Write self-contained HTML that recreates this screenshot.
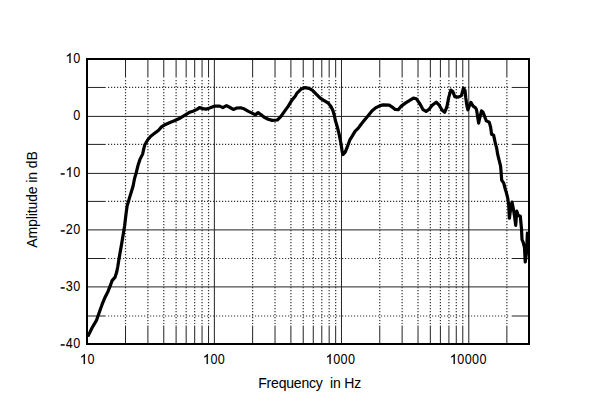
<!DOCTYPE html>
<html><head><meta charset="utf-8"><style>
html,body{margin:0;padding:0;background:#fff;width:600px;height:407px;overflow:hidden}
svg{display:block}
text{font-family:"Liberation Sans",sans-serif;font-size:14px;fill:#000;stroke:#000;stroke-width:0.05px}
.one{fill:#000} path.one{stroke:#000;stroke-width:20}
</style></head><body>
<svg width="600" height="407" viewBox="0 0 600 407">
<rect width="600" height="407" fill="#fff"/>
<line x1="87.0" y1="87.45" x2="105.75" y2="87.45" stroke="#222" stroke-width="1"/>
<line x1="511.7" y1="87.45" x2="529.0" y2="87.45" stroke="#222" stroke-width="1"/>
<line x1="108" y1="87.45" x2="509.7" y2="87.45" stroke="#333" stroke-width="1.2" stroke-dasharray="1.2 1.8"/>
<line x1="87.0" y1="144.40" x2="105.75" y2="144.40" stroke="#222" stroke-width="1"/>
<line x1="511.7" y1="144.40" x2="529.0" y2="144.40" stroke="#222" stroke-width="1"/>
<line x1="108" y1="144.40" x2="509.7" y2="144.40" stroke="#333" stroke-width="1.2" stroke-dasharray="1.2 1.8"/>
<line x1="87.0" y1="201.40" x2="105.75" y2="201.40" stroke="#222" stroke-width="1"/>
<line x1="511.7" y1="201.40" x2="529.0" y2="201.40" stroke="#222" stroke-width="1"/>
<line x1="108" y1="201.40" x2="509.7" y2="201.40" stroke="#333" stroke-width="1.2" stroke-dasharray="1.2 1.8"/>
<line x1="87.0" y1="258.50" x2="105.75" y2="258.50" stroke="#222" stroke-width="1"/>
<line x1="511.7" y1="258.50" x2="529.0" y2="258.50" stroke="#222" stroke-width="1"/>
<line x1="108" y1="258.50" x2="509.7" y2="258.50" stroke="#333" stroke-width="1.2" stroke-dasharray="1.2 1.8"/>
<line x1="87.0" y1="316.00" x2="105.75" y2="316.00" stroke="#222" stroke-width="1"/>
<line x1="511.7" y1="316.00" x2="529.0" y2="316.00" stroke="#222" stroke-width="1"/>
<line x1="108" y1="316.00" x2="509.7" y2="316.00" stroke="#333" stroke-width="1.2" stroke-dasharray="1.2 1.8"/>
<line x1="87.0" y1="116.40" x2="529.0" y2="116.40" stroke="#222" stroke-width="1"/>
<line x1="87.0" y1="173.40" x2="529.0" y2="173.40" stroke="#222" stroke-width="1"/>
<line x1="87.0" y1="229.90" x2="529.0" y2="229.90" stroke="#222" stroke-width="1"/>
<line x1="87.0" y1="286.90" x2="529.0" y2="286.90" stroke="#222" stroke-width="1"/>
<line x1="125.52" y1="59.0" x2="125.52" y2="77.5" stroke="#222" stroke-width="1"/>
<line x1="125.52" y1="325.5" x2="125.52" y2="344.0" stroke="#222" stroke-width="1"/>
<line x1="125.52" y1="80" x2="125.52" y2="324.0" stroke="#333" stroke-width="1.2" stroke-dasharray="1.2 1.8"/>
<line x1="147.90" y1="59.0" x2="147.90" y2="77.5" stroke="#222" stroke-width="1"/>
<line x1="147.90" y1="325.5" x2="147.90" y2="344.0" stroke="#222" stroke-width="1"/>
<line x1="147.90" y1="80" x2="147.90" y2="324.0" stroke="#333" stroke-width="1.2" stroke-dasharray="1.2 1.8"/>
<line x1="163.78" y1="59.0" x2="163.78" y2="77.5" stroke="#222" stroke-width="1"/>
<line x1="163.78" y1="325.5" x2="163.78" y2="344.0" stroke="#222" stroke-width="1"/>
<line x1="163.78" y1="80" x2="163.78" y2="324.0" stroke="#333" stroke-width="1.2" stroke-dasharray="1.2 1.8"/>
<line x1="176.10" y1="59.0" x2="176.10" y2="77.5" stroke="#222" stroke-width="1"/>
<line x1="176.10" y1="325.5" x2="176.10" y2="344.0" stroke="#222" stroke-width="1"/>
<line x1="176.10" y1="80" x2="176.10" y2="324.0" stroke="#333" stroke-width="1.2" stroke-dasharray="1.2 1.8"/>
<line x1="186.17" y1="59.0" x2="186.17" y2="77.5" stroke="#222" stroke-width="1"/>
<line x1="186.17" y1="325.5" x2="186.17" y2="344.0" stroke="#222" stroke-width="1"/>
<line x1="186.17" y1="80" x2="186.17" y2="324.0" stroke="#333" stroke-width="1.2" stroke-dasharray="1.2 1.8"/>
<line x1="194.68" y1="59.0" x2="194.68" y2="77.5" stroke="#222" stroke-width="1"/>
<line x1="194.68" y1="325.5" x2="194.68" y2="344.0" stroke="#222" stroke-width="1"/>
<line x1="194.68" y1="80" x2="194.68" y2="324.0" stroke="#333" stroke-width="1.2" stroke-dasharray="1.2 1.8"/>
<line x1="202.05" y1="59.0" x2="202.05" y2="77.5" stroke="#222" stroke-width="1"/>
<line x1="202.05" y1="325.5" x2="202.05" y2="344.0" stroke="#222" stroke-width="1"/>
<line x1="202.05" y1="80" x2="202.05" y2="324.0" stroke="#333" stroke-width="1.2" stroke-dasharray="1.2 1.8"/>
<line x1="208.55" y1="59.0" x2="208.55" y2="77.5" stroke="#222" stroke-width="1"/>
<line x1="208.55" y1="325.5" x2="208.55" y2="344.0" stroke="#222" stroke-width="1"/>
<line x1="208.55" y1="80" x2="208.55" y2="324.0" stroke="#333" stroke-width="1.2" stroke-dasharray="1.2 1.8"/>
<line x1="214.37" y1="59.0" x2="214.37" y2="344.0" stroke="#222" stroke-width="1"/>
<line x1="252.63" y1="59.0" x2="252.63" y2="77.5" stroke="#222" stroke-width="1"/>
<line x1="252.63" y1="325.5" x2="252.63" y2="344.0" stroke="#222" stroke-width="1"/>
<line x1="252.63" y1="80" x2="252.63" y2="324.0" stroke="#333" stroke-width="1.2" stroke-dasharray="1.2 1.8"/>
<line x1="275.02" y1="59.0" x2="275.02" y2="77.5" stroke="#222" stroke-width="1"/>
<line x1="275.02" y1="325.5" x2="275.02" y2="344.0" stroke="#222" stroke-width="1"/>
<line x1="275.02" y1="80" x2="275.02" y2="324.0" stroke="#333" stroke-width="1.2" stroke-dasharray="1.2 1.8"/>
<line x1="290.90" y1="59.0" x2="290.90" y2="77.5" stroke="#222" stroke-width="1"/>
<line x1="290.90" y1="325.5" x2="290.90" y2="344.0" stroke="#222" stroke-width="1"/>
<line x1="290.90" y1="80" x2="290.90" y2="324.0" stroke="#333" stroke-width="1.2" stroke-dasharray="1.2 1.8"/>
<line x1="303.22" y1="59.0" x2="303.22" y2="77.5" stroke="#222" stroke-width="1"/>
<line x1="303.22" y1="325.5" x2="303.22" y2="344.0" stroke="#222" stroke-width="1"/>
<line x1="303.22" y1="80" x2="303.22" y2="324.0" stroke="#333" stroke-width="1.2" stroke-dasharray="1.2 1.8"/>
<line x1="313.28" y1="59.0" x2="313.28" y2="77.5" stroke="#222" stroke-width="1"/>
<line x1="313.28" y1="325.5" x2="313.28" y2="344.0" stroke="#222" stroke-width="1"/>
<line x1="313.28" y1="80" x2="313.28" y2="324.0" stroke="#333" stroke-width="1.2" stroke-dasharray="1.2 1.8"/>
<line x1="321.79" y1="59.0" x2="321.79" y2="77.5" stroke="#222" stroke-width="1"/>
<line x1="321.79" y1="325.5" x2="321.79" y2="344.0" stroke="#222" stroke-width="1"/>
<line x1="321.79" y1="80" x2="321.79" y2="324.0" stroke="#333" stroke-width="1.2" stroke-dasharray="1.2 1.8"/>
<line x1="329.16" y1="59.0" x2="329.16" y2="77.5" stroke="#222" stroke-width="1"/>
<line x1="329.16" y1="325.5" x2="329.16" y2="344.0" stroke="#222" stroke-width="1"/>
<line x1="329.16" y1="80" x2="329.16" y2="324.0" stroke="#333" stroke-width="1.2" stroke-dasharray="1.2 1.8"/>
<line x1="335.67" y1="59.0" x2="335.67" y2="77.5" stroke="#222" stroke-width="1"/>
<line x1="335.67" y1="325.5" x2="335.67" y2="344.0" stroke="#222" stroke-width="1"/>
<line x1="335.67" y1="80" x2="335.67" y2="324.0" stroke="#333" stroke-width="1.2" stroke-dasharray="1.2 1.8"/>
<line x1="341.48" y1="59.0" x2="341.48" y2="344.0" stroke="#222" stroke-width="1"/>
<line x1="379.75" y1="59.0" x2="379.75" y2="77.5" stroke="#222" stroke-width="1"/>
<line x1="379.75" y1="325.5" x2="379.75" y2="344.0" stroke="#222" stroke-width="1"/>
<line x1="379.75" y1="80" x2="379.75" y2="324.0" stroke="#333" stroke-width="1.2" stroke-dasharray="1.2 1.8"/>
<line x1="402.13" y1="59.0" x2="402.13" y2="77.5" stroke="#222" stroke-width="1"/>
<line x1="402.13" y1="325.5" x2="402.13" y2="344.0" stroke="#222" stroke-width="1"/>
<line x1="402.13" y1="80" x2="402.13" y2="324.0" stroke="#333" stroke-width="1.2" stroke-dasharray="1.2 1.8"/>
<line x1="418.02" y1="59.0" x2="418.02" y2="77.5" stroke="#222" stroke-width="1"/>
<line x1="418.02" y1="325.5" x2="418.02" y2="344.0" stroke="#222" stroke-width="1"/>
<line x1="418.02" y1="80" x2="418.02" y2="324.0" stroke="#333" stroke-width="1.2" stroke-dasharray="1.2 1.8"/>
<line x1="430.33" y1="59.0" x2="430.33" y2="77.5" stroke="#222" stroke-width="1"/>
<line x1="430.33" y1="325.5" x2="430.33" y2="344.0" stroke="#222" stroke-width="1"/>
<line x1="430.33" y1="80" x2="430.33" y2="324.0" stroke="#333" stroke-width="1.2" stroke-dasharray="1.2 1.8"/>
<line x1="440.40" y1="59.0" x2="440.40" y2="77.5" stroke="#222" stroke-width="1"/>
<line x1="440.40" y1="325.5" x2="440.40" y2="344.0" stroke="#222" stroke-width="1"/>
<line x1="440.40" y1="80" x2="440.40" y2="324.0" stroke="#333" stroke-width="1.2" stroke-dasharray="1.2 1.8"/>
<line x1="448.91" y1="59.0" x2="448.91" y2="77.5" stroke="#222" stroke-width="1"/>
<line x1="448.91" y1="325.5" x2="448.91" y2="344.0" stroke="#222" stroke-width="1"/>
<line x1="448.91" y1="80" x2="448.91" y2="324.0" stroke="#333" stroke-width="1.2" stroke-dasharray="1.2 1.8"/>
<line x1="456.28" y1="59.0" x2="456.28" y2="77.5" stroke="#222" stroke-width="1"/>
<line x1="456.28" y1="325.5" x2="456.28" y2="344.0" stroke="#222" stroke-width="1"/>
<line x1="456.28" y1="80" x2="456.28" y2="324.0" stroke="#333" stroke-width="1.2" stroke-dasharray="1.2 1.8"/>
<line x1="462.78" y1="59.0" x2="462.78" y2="77.5" stroke="#222" stroke-width="1"/>
<line x1="462.78" y1="325.5" x2="462.78" y2="344.0" stroke="#222" stroke-width="1"/>
<line x1="462.78" y1="80" x2="462.78" y2="324.0" stroke="#333" stroke-width="1.2" stroke-dasharray="1.2 1.8"/>
<line x1="468.80" y1="59.0" x2="468.80" y2="344.0" stroke="#222" stroke-width="1"/>
<line x1="506.87" y1="59.0" x2="506.87" y2="77.5" stroke="#222" stroke-width="1"/>
<line x1="506.87" y1="325.5" x2="506.87" y2="344.0" stroke="#222" stroke-width="1"/>
<line x1="506.87" y1="80" x2="506.87" y2="324.0" stroke="#333" stroke-width="1.2" stroke-dasharray="1.2 1.8"/>
<line x1="529.25" y1="59.0" x2="529.25" y2="77.5" stroke="#222" stroke-width="1"/>
<line x1="529.25" y1="325.5" x2="529.25" y2="344.0" stroke="#222" stroke-width="1"/>
<line x1="529.25" y1="80" x2="529.25" y2="324.0" stroke="#333" stroke-width="1.2" stroke-dasharray="1.2 1.8"/>
<path d="M87.8,336.6 L92.1,327.7 L96.6,320.1 L100.1,310.0 L102.2,304.2 L105.1,297.2 L108.1,291.2 L110.1,286.2 L112.1,280.6 L115.1,277.1 L116.7,272.1 L117.7,267.0 L119.1,258.2 L121.6,244.1 L123.6,232.0 L124.6,226.0 L126.1,213.2 L127.1,206.1 L129.1,199.1 L131.6,191.0 L133.1,186.0 L134.6,178.2 L136.1,173.2 L138.1,165.1 L140.1,159.1 L142.6,154.1 L143.8,148.6 L144.8,144.8 L147.8,139.7 L150.7,136.3 L154.6,133.3 L158.6,130.3 L161.5,126.9 L165.5,124.4 L169.4,122.8 L174.3,120.8 L180.0,118.2 L185.0,115.2 L189.0,112.6 L193.0,111.2 L197.0,109.4 L199.5,107.6 L203.0,108.6 L206.0,109.1 L209.0,108.2 L212.2,107.1 L215.2,106.1 L219.7,106.1 L222.8,107.6 L226.5,105.6 L230.0,107.5 L233.3,109.4 L236.7,108.0 L240.5,107.8 L244.0,108.8 L248.5,111.3 L253.1,113.7 L255.6,114.7 L258.1,112.6 L261.1,114.7 L264.2,117.2 L268.2,119.2 L272.2,120.4 L277.3,120.0 L280.3,117.2 L284.3,111.6 L288.3,106.1 L291.9,100.1 L295.4,96.0 L297.0,93.1 L301.1,89.1 L305.1,87.6 L309.1,88.3 L312.2,90.1 L316.2,94.1 L320.2,98.1 L324.2,100.6 L328.3,103.2 L330.8,106.2 L332.8,110.2 L334.3,115.2 L335.3,120.3 L337.1,126.1 L339.1,134.1 L341.1,144.2 L342.1,151.2 L343.1,154.5 L345.2,152.2 L347.2,147.2 L349.7,140.2 L352.2,136.1 L355.2,131.1 L358.3,128.1 L361.3,124.0 L364.3,120.3 L368.1,115.7 L372.1,110.7 L376.1,107.6 L380.1,105.6 L383.2,104.9 L389.2,105.1 L392.2,107.1 L395.2,109.5 L398.3,109.7 L401.3,106.1 L405.3,103.1 L409.3,100.6 L413.4,98.1 L416.4,98.8 L420.0,104.0 L423.1,109.7 L426.1,111.4 L429.1,109.2 L432.2,105.2 L436.2,102.2 L439.2,105.2 L442.2,110.2 L444.7,112.2 L446.8,107.2 L448.8,97.1 L450.8,90.1 L452.8,91.6 L454.8,96.6 L458.3,97.1 L461.4,95.6 L463.4,88.1 L465.0,90.5 L465.8,98.0 L466.8,105.4 L467.9,109.8 L469.5,105.5 L470.9,102.4 L473.1,106.1 L475.3,107.6 L476.5,109.5 L478.6,123.1 L480.0,117.0 L481.5,110.9 L482.8,112.0 L484.1,115.0 L486.3,120.9 L489.3,122.3 L490.6,127.1 L491.6,134.2 L493.6,135.2 L495.1,142.2 L496.7,148.3 L497.6,154.0 L499.1,160.1 L500.6,166.1 L501.1,172.2 L501.7,180.2 L503.7,183.2 L505.5,190.0 L506.2,192.0 L507.7,198.1 L508.7,205.1 L509.4,218.2 L510.7,208.1 L512.0,202.1 L513.2,208.1 L514.7,217.2 L515.7,225.3 L516.8,211.2 L518.1,215.2 L520.3,216.2 L521.5,229.0 L522.0,239.7 L523.2,242.3 L524.5,247.6 L525.2,261.9 L526.5,252.8 L527.4,233.2 L528.0,232.0" fill="none" stroke="#000" stroke-width="3.2" stroke-linejoin="round" stroke-linecap="butt"/>
<rect x="87.0" y="59.0" width="442.0" height="285.0" fill="none" stroke="#000" stroke-width="2"/>
<path class="one" transform="translate(65.40,63) scale(0.006836,-0.006836)" d="M763 0H583V1147Q518 1085 413 1023Q308 961 224 930V1104Q375 1175 488 1276Q601 1377 648 1472H763Z"/>
<text transform="translate(76.64,63) scale(0.9,1)" x="-3.89" y="0">0</text>
<text transform="translate(76.64,120) scale(0.9,1)" x="-3.89" y="0">0</text>
<rect class="one" x="60.70" y="173.20" width="4" height="1.5"/>
<path class="one" transform="translate(65.40,177) scale(0.006836,-0.006836)" d="M763 0H583V1147Q518 1085 413 1023Q308 961 224 930V1104Q375 1175 488 1276Q601 1377 648 1472H763Z"/>
<text transform="translate(76.64,177) scale(0.9,1)" x="-3.89" y="0">0</text>
<rect class="one" x="60.70" y="230.20" width="4" height="1.5"/>
<text transform="translate(69.29,234) scale(0.9,1)" x="-3.89" y="0">2</text>
<text transform="translate(76.64,234) scale(0.9,1)" x="-3.89" y="0">0</text>
<rect class="one" x="60.70" y="287.20" width="4" height="1.5"/>
<text transform="translate(69.29,291) scale(0.9,1)" x="-3.89" y="0">3</text>
<text transform="translate(76.64,291) scale(0.9,1)" x="-3.89" y="0">0</text>
<rect class="one" x="60.70" y="344.20" width="4" height="1.5"/>
<text transform="translate(69.29,348) scale(0.9,1)" x="-3.89" y="0">4</text>
<text transform="translate(76.64,348) scale(0.9,1)" x="-3.89" y="0">0</text>
<path class="one" transform="translate(79.70,364) scale(0.006836,-0.006836)" d="M763 0H583V1147Q518 1085 413 1023Q308 961 224 930V1104Q375 1175 488 1276Q601 1377 648 1472H763Z"/>
<text transform="translate(90.94,364) scale(0.9,1)" x="-3.89" y="0">0</text>
<path class="one" transform="translate(202.65,364) scale(0.006836,-0.006836)" d="M763 0H583V1147Q518 1085 413 1023Q308 961 224 930V1104Q375 1175 488 1276Q601 1377 648 1472H763Z"/>
<text transform="translate(213.89,364) scale(0.9,1)" x="-3.89" y="0">0</text>
<text transform="translate(221.24,364) scale(0.9,1)" x="-3.89" y="0">0</text>
<path class="one" transform="translate(325.50,364) scale(0.006836,-0.006836)" d="M763 0H583V1147Q518 1085 413 1023Q308 961 224 930V1104Q375 1175 488 1276Q601 1377 648 1472H763Z"/>
<text transform="translate(336.74,364) scale(0.9,1)" x="-3.89" y="0">0</text>
<text transform="translate(344.09,364) scale(0.9,1)" x="-3.89" y="0">0</text>
<text transform="translate(351.44,364) scale(0.9,1)" x="-3.89" y="0">0</text>
<path class="one" transform="translate(449.60,364) scale(0.006836,-0.006836)" d="M763 0H583V1147Q518 1085 413 1023Q308 961 224 930V1104Q375 1175 488 1276Q601 1377 648 1472H763Z"/>
<text transform="translate(460.84,364) scale(0.9,1)" x="-3.89" y="0">0</text>
<text transform="translate(468.19,364) scale(0.9,1)" x="-3.89" y="0">0</text>
<text transform="translate(475.54,364) scale(0.9,1)" x="-3.89" y="0">0</text>
<text transform="translate(482.89,364) scale(0.9,1)" x="-3.89" y="0">0</text>
<text x="258.2" y="387.5" textLength="103" lengthAdjust="spacing" xml:space="preserve">Frequency  in Hz</text>
<text transform="translate(37.0,247.8) rotate(-90)" style="stroke-width:0.05px" textLength="96.6" lengthAdjust="spacing">Amplitude in dB</text>
</svg>
</body></html>
